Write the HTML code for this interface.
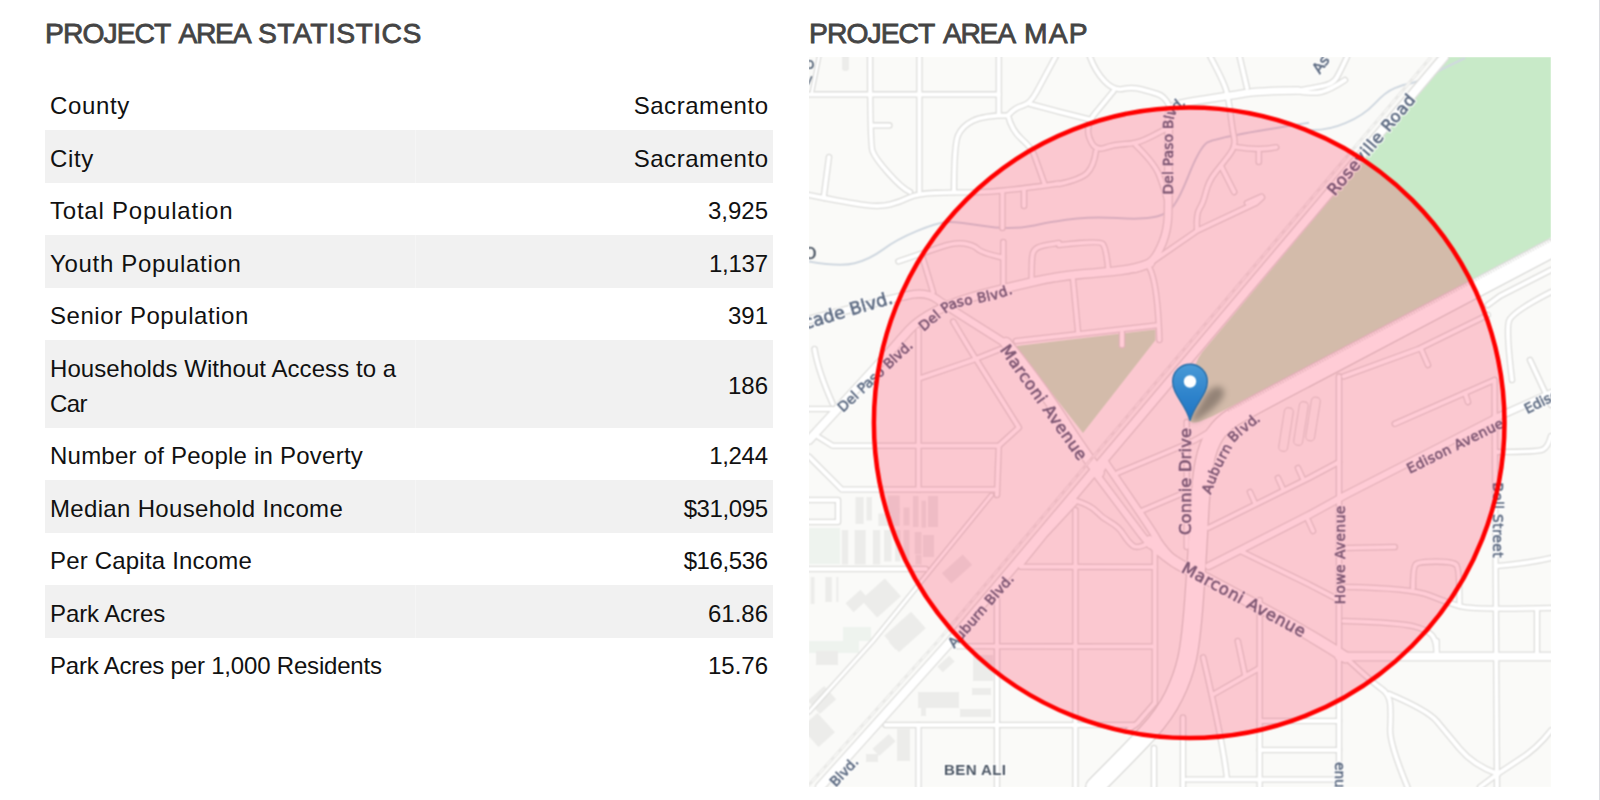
<!DOCTYPE html>
<html lang="en">
<head>
<meta charset="utf-8">
<title>Project Area</title>
<style>
html,body{margin:0;padding:0;background:#fff;}
body{width:1600px;height:800px;overflow:hidden;position:relative;font-family:"Liberation Sans",sans-serif;color:#111;}
h2{position:absolute;margin:0;top:17px;left:0;font-size:28.3px;line-height:32px;font-weight:normal;color:#444;-webkit-text-stroke:0.8px #444;white-space:nowrap;}
h2 span{position:absolute;top:0;}
table{position:absolute;left:45px;top:77.5px;width:728px;border-collapse:collapse;font-size:24px;line-height:35px;}
td{padding:10.75px 5px 6.75px 5px;vertical-align:middle;}
td:first-child{width:361px;}
tr:nth-child(even) td:first-child{box-shadow:inset -1px 0 0 #f5f5f5;}
td.v{text-align:right;}
tr:nth-child(even) td{background:#f1f1f1;}
#edge{position:absolute;left:1599px;top:0;width:1px;height:800px;background:#dcdce0;}
#map{position:absolute;left:809px;top:57px;width:742px;height:730px;background:#fafaf8;overflow:hidden;}
#map svg{display:block;}
#mapblur{position:absolute;left:0;top:0;width:742px;height:730px;}
</style>
</head>
<body>
<h2 id="h-stats"><span style="left:45px;letter-spacing:-0.95px">PROJECT</span> <span style="left:178.5px;letter-spacing:-1.35px">AREA</span> <span style="left:258px;letter-spacing:0.45px">STATISTICS</span></h2>
<h2 id="h-map"><span style="left:809px;letter-spacing:-0.95px">PROJECT</span> <span style="left:943px;letter-spacing:-1.35px">AREA</span> <span style="left:1024px;letter-spacing:1.2px">MAP</span></h2>
<table>
<tr><td><span style="letter-spacing:0.64px">County</span></td><td class="v"><span style="letter-spacing:0.55px;margin-right:-0.55px">Sacramento</span></td></tr>
<tr><td><span style="letter-spacing:0.67px">City</span></td><td class="v"><span style="letter-spacing:0.55px;margin-right:-0.55px">Sacramento</span></td></tr>
<tr><td><span style="letter-spacing:0.78px">Total Population</span></td><td class="v"><span style="letter-spacing:0px;margin-right:0px">3,925</span></td></tr>
<tr><td><span style="letter-spacing:0.68px">Youth Population</span></td><td class="v"><span style="letter-spacing:-0.25px;margin-right:0.25px">1,137</span></td></tr>
<tr><td><span style="letter-spacing:0.55px">Senior Population</span></td><td class="v"><span style="letter-spacing:0px;margin-right:0px">391</span></td></tr>
<tr><td><span style="letter-spacing:0.07px">Households Without Access to a</span><br><span style="letter-spacing:-0.6px">Car</span></td><td class="v"><span style="letter-spacing:0px;margin-right:0px">186</span></td></tr>
<tr><td><span style="letter-spacing:0.23px">Number of People in Poverty</span></td><td class="v"><span style="letter-spacing:-0.3px;margin-right:0.3px">1,244</span></td></tr>
<tr><td><span style="letter-spacing:0.33px">Median Household Income</span></td><td class="v"><span style="letter-spacing:-0.4px;margin-right:0.4px">$31,095</span></td></tr>
<tr><td><span style="letter-spacing:0.19px">Per Capita Income</span></td><td class="v"><span style="letter-spacing:-0.4px;margin-right:0.4px">$16,536</span></td></tr>
<tr><td><span style="letter-spacing:-0.1px">Park Acres</span></td><td class="v"><span style="letter-spacing:0px;margin-right:0px">61.86</span></td></tr>
<tr><td><span style="letter-spacing:-0.19px">Park Acres per 1,000 Residents</span></td><td class="v"><span style="letter-spacing:0px;margin-right:0px">15.76</span></td></tr>
</table>
<div id="map"><div id="mapblur">
<svg width="742" height="730" viewBox="809 57 742 730">
<!--MAPSTART-->
<filter id="soft" x="0" y="0" width="100%" height="100%" filterUnits="objectBoundingBox" color-interpolation-filters="sRGB"><feConvolveMatrix order="3" kernelMatrix="1 2 1 2 4 2 1 2 1" divisor="16" edgeMode="duplicate" preserveAlpha="false"/></filter>
<g filter="url(#soft)">
<rect x="809" y="57" width="742" height="730" fill="#fafaf8"/>
<rect x="809" y="528" width="31" height="36" fill="#eef3ee"/>
<rect x="843" y="627" width="28" height="14" fill="#eef3ee"/>
<rect x="809" y="641" width="50" height="12" fill="#eef3ee"/>
<path d="M1449.5 57 L1551 57 L1551 237.6 L1340 349 L1225 409.7 Q1212 417 1200 421.5 Q1189 424.5 1188.5 418 Q1188 372 1202 352.5 Z" fill="#c8eac8"/>
<path d="M1015 346.2 L1155.5 329.5 L1155.5 340 L1083 433 Z" fill="#c8eac8"/>
<rect x="855.5" y="497.0" width="8.2" height="27.0" fill="#ececea"/>
<rect x="866.5" y="497.0" width="5.5" height="23.5" fill="#ececea"/>
<rect x="878.3" y="513.5" width="11.5" height="12.5" fill="#ececea"/>
<rect x="887.7" y="495.5" width="12.0" height="18.0" fill="#ececea"/>
<rect x="891.0" y="508.0" width="8.7" height="18.0" fill="#ececea"/>
<rect x="903.5" y="507.5" width="6.0" height="18.0" fill="#ececea"/>
<rect x="913.0" y="496.0" width="5.5" height="31.0" fill="#ececea"/>
<rect x="921.5" y="500.7" width="4.5" height="27.0" fill="#ececea"/>
<rect x="928.0" y="496.0" width="10.0" height="31.0" fill="#ececea"/>
<rect x="841.8" y="530.0" width="6.4" height="34.5" fill="#ececea"/>
<rect x="854.6" y="530.0" width="11.0" height="34.5" fill="#ececea"/>
<rect x="872.9" y="530.0" width="7.3" height="34.5" fill="#ececea"/>
<rect x="884.0" y="530.0" width="7.5" height="31.5" fill="#ececea"/>
<rect x="895.0" y="530.0" width="5.5" height="31.5" fill="#ececea"/>
<rect x="903.5" y="530.0" width="6.0" height="30.0" fill="#ececea"/>
<rect x="914.7" y="532.0" width="6.8" height="22.0" fill="#ececea"/>
<rect x="923.0" y="535.0" width="11.0" height="22.0" fill="#ececea"/>
<rect x="915.5" y="554.7" width="6.0" height="9.8" fill="#ececea"/>
<rect x="810.8" y="577.0" width="3.7" height="27.0" fill="#ececea"/>
<rect x="825.4" y="577.0" width="6.4" height="25.0" fill="#ececea"/>
<rect x="836.4" y="577.0" width="2.0" height="25.0" fill="#ececea"/>
<rect x="816.0" y="651.0" width="22.0" height="14.0" fill="#ececea"/>
<rect x="973.0" y="655.0" width="20.0" height="26.0" fill="#ececea"/>
<rect x="918.0" y="692.0" width="41.0" height="16.0" fill="#ececea"/>
<rect x="972.0" y="688.0" width="19.0" height="7.0" fill="#ececea"/>
<rect x="960.0" y="709.0" width="31.0" height="8.0" fill="#ececea"/>
<rect x="897.0" y="729.0" width="13.0" height="32.0" fill="#ececea"/>
<rect x="866.0" y="754.0" width="12.0" height="8.0" fill="#ececea"/>
<rect x="921.0" y="708.0" width="5.0" height="8.0" fill="#ececea"/>
<rect x="943.0" y="562.0" width="28.0" height="14.0" fill="#ececea" transform="rotate(-42 957.0 569.0)"/>
<rect x="847.0" y="595.0" width="20.0" height="12.0" fill="#ececea" transform="rotate(-42 857.0 601.0)"/>
<rect x="865.0" y="586.0" width="32.0" height="24.0" fill="#ececea" transform="rotate(-42 881.0 598.0)"/>
<rect x="887.0" y="621.0" width="36.0" height="22.0" fill="#ececea" transform="rotate(-42 905.0 632.0)"/>
<rect x="890.0" y="635.0" width="18.0" height="10.0" fill="#ececea" transform="rotate(-42 899.0 640.0)"/>
<rect x="938.0" y="660.0" width="16.0" height="8.0" fill="#ececea" transform="rotate(-42 946.0 664.0)"/>
<rect x="811.0" y="691.0" width="22.0" height="18.0" fill="#ececea" transform="rotate(-42 822.0 700.0)"/>
<rect x="807.0" y="717.0" width="22.0" height="26.0" fill="#ececea" transform="rotate(-42 818.0 730.0)"/>
<rect x="873.0" y="740.0" width="22.0" height="10.0" fill="#ececea" transform="rotate(-42 884.0 745.0)"/>
<rect x="842" y="54" width="7" height="17" rx="3" fill="#ececea"/>
<path d="M809.0 261.4 Q840.0 266.9 854.6 263.2 Q869.2 259.6 882.9 249.6 Q896.6 239.5 916.7 231.2 Q936.7 223.0 945.9 222.1 Q955.0 221.2 982.4 225.8 Q1009.7 230.4 1034.3 225.4 Q1059.0 220.3 1077.2 218.5 Q1095.5 216.7 1117.4 218.1 Q1139.3 219.4 1151.2 217.6 Q1163.0 215.8 1170.3 209.4 Q1177.6 203.0 1188.5 175.6 Q1199.5 148.2 1206.8 142.8 Q1214.0 137.3 1309.0 122.7" fill="none" stroke="#d0d8e0" stroke-width="2"/>
<path d="M1309.0 130.0 Q1327.0 131.0 1345.3 123.2 Q1363.7 115.4 1374.7 103.6 Q1385.6 91.7 1394.8 88.1 Q1404.0 84.4 1410.3 83.5 Q1416.7 82.5 1428.3 76.2 Q1440.0 70.0 1465.0 58.0" fill="none" stroke="#d0d8e0" stroke-width="2"/>
<g fill="none" stroke-linecap="round" stroke-linejoin="round">
<path d="M1551.0 248.6 Q1340.0 360.0 1292.5 385.0 Q1245.0 410.0 1233.5 417.0 Q1222.0 424.0 1215.0 434.5 Q1208.0 445.0 1204.5 462.5 Q1201.0 480.0 1199.0 520.0 Q1197.0 560.0 1194.0 600.5 Q1191.0 641.0 1187.0 659.0 Q1183.0 677.0 1174.0 695.5 Q1165.0 714.0 1148.5 732.0 Q1132.0 750.0 1095.0 787.0" stroke="#d6d6d4" stroke-width="20"/>
<path d="M809.0 94.4 L998.8 94.4" stroke="#dededc" stroke-width="6.6"/>
<path d="M870.1 57.0 Q870.1 144.0 872.5 151.0 Q875.0 158.0 888.5 173.2 Q902.0 188.4 910.0 192.0" stroke="#dededc" stroke-width="6.6"/>
<path d="M919.4 57.0 L919.4 192.0" stroke="#dededc" stroke-width="6.6"/>
<path d="M998.8 57.0 L998.8 114.0" stroke="#dededc" stroke-width="6.6"/>
<path d="M872.0 125.4 L889.3 125.4" stroke="#dededc" stroke-width="6.6"/>
<path d="M819.0 57.0 L812.0 92.0" stroke="#dededc" stroke-width="5.1"/>
<path d="M829.0 157.0 L823.6 198.0" stroke="#dededc" stroke-width="6.6"/>
<path d="M809.0 195.0 Q850.0 203.0 865.0 205.0 Q880.0 207.0 890.0 204.5 Q900.0 202.0 908.5 197.8 Q917.0 193.5 935.5 192.9 Q954.0 192.3 977.0 192.2 Q1000.0 192.0 1059.0 183.5" stroke="#dededc" stroke-width="6.6"/>
<path d="M954.0 192.0 Q954.0 145.0 958.0 135.5 Q962.0 126.0 973.0 120.7 Q984.0 115.4 1008.0 115.4" stroke="#dededc" stroke-width="6.6"/>
<path d="M1008.0 115.4 Q1015.0 107.5 1022.5 105.8 Q1030.0 104.0 1036.5 92.0 Q1043.0 80.0 1055.4 57.0" stroke="#dededc" stroke-width="6.6"/>
<path d="M1030.0 104.0 L1059.0 111.7 L1090.0 119.5" stroke="#dededc" stroke-width="6.6"/>
<path d="M1008.0 115.4 Q1011.6 130.0 1021.6 139.1 Q1031.6 148.2 1033.8 154.1 Q1036.0 160.0 1044.4 183.5" stroke="#dededc" stroke-width="6.6"/>
<path d="M1002.4 192.0 L1002.4 228.0" stroke="#dededc" stroke-width="6.6"/>
<path d="M1024.0 191.0 L1024.0 206.0" stroke="#dededc" stroke-width="6.6"/>
<path d="M1298.0 90.5 Q1259.7 90.8 1243.3 93.5 Q1226.9 96.2 1205.0 99.4 Q1183.0 102.6 1176.5 104.8 Q1170.0 107.0 1169.2 116.0 Q1168.5 125.0 1168.5 164.0 Q1168.5 203.0 1168.0 216.5 Q1167.5 230.0 1162.8 242.0 Q1158.0 254.0 1153.0 259.5 Q1148.0 265.0 1135.6 268.7" stroke="#dededc" stroke-width="9.1"/>
<path d="M1210.5 57.0 Q1223.2 80.7 1226.0 89.8 Q1228.7 99.0 1230.6 114.5 Q1232.4 130.0 1234.2 138.0 Q1236.0 146.0 1229.6 154.4 Q1223.2 162.8 1215.9 171.9 Q1208.6 181.0 1205.9 192.0 Q1203.2 203.0 1199.6 208.5 Q1196.0 214.0 1197.0 230.0" stroke="#dededc" stroke-width="6.6"/>
<path d="M1236.0 147.0 Q1259.7 151.0 1276.2 147.3" stroke="#dededc" stroke-width="6.6"/>
<path d="M1258.8 152.0 L1258.8 162.0" stroke="#dededc" stroke-width="6.6"/>
<path d="M1221.0 166.0 L1234.2 192.0" stroke="#dededc" stroke-width="6.6"/>
<path d="M1247.0 203.0 L1261.6 196.6" stroke="#dededc" stroke-width="6.6"/>
<path d="M1239.7 57.0 L1247.0 88.0" stroke="#dededc" stroke-width="6.6"/>
<path d="M1296.0 91.0 Q1312.0 88.0 1322.5 86.0 Q1333.0 84.0 1336.5 78.0 Q1340.0 72.0 1347.0 57.0" stroke="#dededc" stroke-width="6.6"/>
<path d="M1296.0 91.0 Q1312.0 94.0 1321.0 92.0 Q1330.0 90.0 1345.0 80.0" stroke="#dededc" stroke-width="6.6"/>
<path d="M1090.0 57.0 Q1095.5 71.6 1104.6 81.2 Q1113.7 90.8 1122.8 88.9 Q1132.0 87.0 1141.1 89.3 Q1150.2 91.7 1157.5 94.0 Q1164.8 96.2 1169.4 106.0" stroke="#dededc" stroke-width="6.6"/>
<path d="M1113.7 90.8 Q1101.0 106.3 1095.5 112.9 Q1090.0 119.5 1088.5 126.8 Q1087.0 134.0 1091.5 142.5 Q1096.0 151.0 1104.8 147.8 Q1113.7 144.6 1124.7 144.1 Q1135.6 143.7 1144.8 139.6 Q1153.9 135.5 1167.0 128.2" stroke="#dededc" stroke-width="6.6"/>
<path d="M1096.0 151.0 Q1093.7 166.5 1087.3 172.9 Q1080.9 179.3 1059.0 184.0" stroke="#dededc" stroke-width="6.6"/>
<path d="M1135.6 145.0 Q1153.9 162.8 1158.5 173.8 Q1163.0 184.7 1167.0 200.0" stroke="#dededc" stroke-width="6.6"/>
<path d="M898.4 261.4 Q927.6 251.4 941.3 246.8 Q955.0 242.2 964.1 243.6 Q973.2 245.0 977.8 249.1 Q982.4 253.2 1003.0 257.7" stroke="#dededc" stroke-width="6.6"/>
<path d="M1003.3 242.0 L1003.3 286.0" stroke="#dededc" stroke-width="6.6"/>
<path d="M922.1 256.0 L933.1 292.4" stroke="#dededc" stroke-width="6.6"/>
<path d="M1059.0 243.1 Q1042.6 245.0 1037.8 247.5 Q1033.0 250.0 1032.3 256.0 Q1031.6 262.0 1031.6 279.0" stroke="#dededc" stroke-width="6.6"/>
<path d="M953.2 321.6 L969.6 349.0 L1018.9 427.5 L998.8 445.7 L997.0 495.0" stroke="#dededc" stroke-width="6.6"/>
<path d="M809.0 319.8 Q900.0 296.0 913.8 294.2 Q927.6 292.4 936.8 299.2 Q945.9 306.0 1009.7 346.0" stroke="#dededc" stroke-width="9.1"/>
<path d="M1006.0 343.0 Q1040.0 385.0 1061.5 418.5 Q1083.0 452.0 1098.8 472.5" stroke="#dededc" stroke-width="12.6"/>
<path d="M809.0 440.0 Q885.6 357.0 892.8 348.5 Q900.0 340.0 909.2 329.9 Q918.5 319.8 936.8 310.6 Q955.0 301.5 982.4 294.2 Q1009.7 287.0 1034.3 281.5 Q1059.0 276.0 1081.8 274.1 Q1104.6 272.3 1120.1 270.5 Q1135.6 268.7 1150.2 263.2" stroke="#dededc" stroke-width="10.1"/>
<path d="M1150.2 263.2 L1197.7 230.4 L1256.0 203.0 L1262.0 197.5" stroke="#dededc" stroke-width="6.6"/>
<path d="M1059.0 245.0 Q1099.0 240.4 1102.5 243.7 Q1106.0 247.0 1108.3 270.0" stroke="#dededc" stroke-width="6.6"/>
<path d="M1072.7 276.0 L1078.2 333.5" stroke="#dededc" stroke-width="6.6"/>
<path d="M1016.0 341.0 L1059.0 336.2 L1157.5 325.3" stroke="#dededc" stroke-width="6.6"/>
<path d="M1148.4 266.0 Q1157.5 279.6 1159.4 339.9" stroke="#dededc" stroke-width="6.6"/>
<path d="M1122.0 332.6 L1122.0 345.3" stroke="#dededc" stroke-width="6.6"/>
<path d="M918.5 330.0 L918.5 489.5" stroke="#dededc" stroke-width="6.6"/>
<path d="M918.5 725.0 L918.5 787.0" stroke="#dededc" stroke-width="6.6"/>
<path d="M818.0 436.6 L832.7 445.7 L998.8 445.7" stroke="#dededc" stroke-width="6.6"/>
<path d="M809.0 456.7 L841.8 489.5 L995.0 489.5" stroke="#dededc" stroke-width="6.6"/>
<path d="M920.3 378.2 L973.2 360.0 L1000.6 349.0" stroke="#dededc" stroke-width="6.6"/>
<path d="M814.5 349.0 Q818.0 371.0 832.7 403.7" stroke="#dededc" stroke-width="6.6"/>
<path d="M809.0 409.0 L832.7 409.0" stroke="#dededc" stroke-width="6.6"/>
<path d="M1339.0 376.4 L1339.0 787.0" stroke="#dededc" stroke-width="6.6"/>
<path d="M1494.5 380.0 L1497.0 787.0" stroke="#dededc" stroke-width="6.6"/>
<path d="M1343.7 376.4 L1418.5 349.0 L1487.8 315.0" stroke="#dededc" stroke-width="6.6"/>
<path d="M1394.8 423.8 L1494.5 380.0" stroke="#dededc" stroke-width="6.6"/>
<path d="M1465.0 393.0 L1468.0 402.0" stroke="#dededc" stroke-width="6.6"/>
<path d="M1421.0 349.0 L1428.0 365.0" stroke="#dededc" stroke-width="6.6"/>
<path d="M1208.6 566.2 L1309.0 515.0 L1345.5 495.0 L1498.8 416.5 L1551.7 392.8" stroke="#dededc" stroke-width="8.6"/>
<path d="M1208.6 527.8 L1309.0 478.0 L1339.0 462.0" stroke="#dededc" stroke-width="6.6"/>
<path d="M1241.5 551.6 L1309.0 584.4 L1339.0 600.0" stroke="#dededc" stroke-width="6.6"/>
<path d="M1255.0 503.0 L1250.0 492.0" stroke="#dededc" stroke-width="6.6"/>
<path d="M1283.0 489.0 L1278.0 478.0" stroke="#dededc" stroke-width="6.6"/>
<path d="M1303.0 479.0 L1298.0 468.0" stroke="#dededc" stroke-width="6.6"/>
<path d="M1308.0 520.0 L1313.0 531.0" stroke="#dededc" stroke-width="6.6"/>
<path d="M1551.0 270.0 L1500.0 296.0 L1487.8 305.0" stroke="#dededc" stroke-width="6.6"/>
<path d="M1551.0 292.0 Q1512.0 312.0 1509.0 321.0 Q1506.0 330.0 1512.0 380.0" stroke="#dededc" stroke-width="6.6"/>
<path d="M1497.0 452.0 Q1538.0 452.0 1543.0 449.5 Q1548.0 447.0 1551.0 436.0" stroke="#dededc" stroke-width="6.6"/>
<path d="M1530.0 360.0 L1551.0 405.0" stroke="#dededc" stroke-width="6.6"/>
<path d="M809.0 569.0 L925.8 569.0" stroke="#dededc" stroke-width="6.6"/>
<path d="M991.5 495.0 L872.9 641.0 L809.0 712.0" stroke="#dededc" stroke-width="5.6"/>
<path d="M1020.7 566.8 L1154.8 567.0" stroke="#dededc" stroke-width="6.6"/>
<path d="M997.0 597.0 L997.0 787.0" stroke="#dededc" stroke-width="6.6"/>
<path d="M957.5 646.3 L1154.0 646.5" stroke="#dededc" stroke-width="6.6"/>
<path d="M1075.4 510.0 L1075.4 787.0" stroke="#dededc" stroke-width="6.6"/>
<path d="M1154.8 548.0 L1154.8 703.0 L1137.5 723.0 L1128.0 730.0" stroke="#dededc" stroke-width="6.6"/>
<path d="M809.0 500.0 L838.0 500.0 L838.0 522.0 L809.0 522.0" stroke="#dededc" stroke-width="6.6"/>
<path d="M1186.7 422.0 L1186.7 547.0" stroke="#dededc" stroke-width="6.6"/>
<path d="M1117.8 472.9 Q1180.0 447.0 1190.0 442.5 Q1200.0 438.0 1215.0 428.0" stroke="#dededc" stroke-width="6.6"/>
<path d="M1141.3 511.0 L1180.0 494.5" stroke="#dededc" stroke-width="6.6"/>
<path d="M1075.6 502.0 L1045.0 535.0 L1020.7 565.0" stroke="#dededc" stroke-width="6.6"/>
<path d="M1098.8 472.5 L1105.7 463.0" stroke="#dededc" stroke-width="8.6"/>
<path d="M1105.7 463.0 Q1152.5 530.6 1156.2 537.8 Q1160.0 545.0 1170.0 556.0" stroke="#dededc" stroke-width="8.6"/>
<path d="M1096.3 474.4 L1141.3 534.4 L1150.0 545.0" stroke="#dededc" stroke-width="8.6"/>
<path d="M1075.6 500.6 Q1090.0 505.0 1096.0 511.2 Q1101.9 517.5 1110.3 522.2 Q1118.8 526.9 1123.4 534.4 Q1128.1 541.9 1132.8 545.6 Q1137.5 549.4 1150.6 541.9" stroke="#dededc" stroke-width="6.6"/>
<path d="M1150.0 541.0 Q1167.5 558.8 1183.8 566.9 Q1200.0 575.0 1254.5 604.4 Q1309.0 633.7 1345.5 657.4" stroke="#dededc" stroke-width="12.6"/>
<path d="M1339.0 656.5 L1551.0 656.5" stroke="#dededc" stroke-width="10.1"/>
<path d="M1345.5 587.0 Q1411.2 588.0 1429.5 595.4 Q1447.7 602.7 1460.5 606.4 Q1473.2 610.0 1551.0 608.0" stroke="#dededc" stroke-width="6.6"/>
<path d="M1413.0 588.0 Q1413.0 567.0 1416.0 564.3 Q1419.0 561.6 1436.0 561.6 Q1453.0 561.6 1456.2 564.8 Q1459.5 568.0 1459.5 606.0" stroke="#dededc" stroke-width="6.6"/>
<path d="M1345.5 548.0 L1394.8 547.0" stroke="#dededc" stroke-width="6.6"/>
<path d="M1343.7 621.0 Q1400.0 622.7 1413.8 626.4 Q1427.6 630.0 1432.2 635.5 Q1436.7 641.0 1436.7 656.0" stroke="#dededc" stroke-width="6.6"/>
<path d="M1497.0 566.0 Q1530.0 563.0 1551.0 558.0" stroke="#dededc" stroke-width="6.6"/>
<path d="M1537.0 610.0 L1537.0 656.0" stroke="#dededc" stroke-width="6.6"/>
<path d="M885.6 725.0 L1135.0 725.0" stroke="#dededc" stroke-width="6.6"/>
<path d="M1259.7 600.0 L1259.7 787.0" stroke="#dededc" stroke-width="6.6"/>
<path d="M1203.2 657.4 Q1223.2 743.2 1226.9 778.0" stroke="#dededc" stroke-width="6.6"/>
<path d="M1214.0 694.0 L1258.8 668.4" stroke="#dededc" stroke-width="6.6"/>
<path d="M1237.8 641.0 L1245.0 675.0" stroke="#dededc" stroke-width="6.6"/>
<path d="M1183.0 717.6 L1183.0 787.0" stroke="#dededc" stroke-width="6.6"/>
<path d="M1186.7 779.5 L1339.0 779.5" stroke="#dededc" stroke-width="6.6"/>
<path d="M1259.7 721.0 L1339.0 721.0" stroke="#dededc" stroke-width="6.6"/>
<path d="M1259.7 750.0 L1339.0 750.0" stroke="#dededc" stroke-width="6.6"/>
<path d="M1154.0 748.0 L1154.0 787.0" stroke="#dededc" stroke-width="6.6"/>
<path d="M1345.5 657.4 Q1372.9 683.0 1381.1 688.5 Q1389.3 694.0 1390.2 704.0 Q1391.0 714.0 1390.2 728.6 Q1389.3 743.2 1407.5 787.0" stroke="#dededc" stroke-width="6.6"/>
<path d="M1389.3 694.0 Q1427.6 710.3 1436.8 721.2 Q1445.9 732.2 1459.6 748.6 Q1473.2 765.0 1498.0 774.2" stroke="#dededc" stroke-width="6.6"/>
<path d="M1551.0 730.4 Q1537.0 748.7 1517.9 760.5 Q1498.8 772.4 1480.0 787.0" stroke="#dededc" stroke-width="6.6"/>
<path d="M1436.7 641.0 L1436.7 656.0" stroke="#dededc" stroke-width="6.6"/>
<path d="M1444.0 57.0 L1095.0 470.0 L951.0 641.0 L820.0 787.0" stroke="#dededc" stroke-width="10.6"/>
<path d="M1551.0 248.6 Q1340.0 360.0 1292.5 385.0 Q1245.0 410.0 1233.5 417.0 Q1222.0 424.0 1215.0 434.5 Q1208.0 445.0 1204.5 462.5 Q1201.0 480.0 1199.0 520.0 Q1197.0 560.0 1194.0 600.5 Q1191.0 641.0 1187.0 659.0 Q1183.0 677.0 1174.0 695.5 Q1165.0 714.0 1148.5 732.0 Q1132.0 750.0 1095.0 787.0" stroke="#ffffff" stroke-width="17.6"/>
<path d="M809.0 94.4 L998.8 94.4" stroke="#ffffff" stroke-width="4.0"/>
<path d="M870.1 57.0 Q870.1 144.0 872.5 151.0 Q875.0 158.0 888.5 173.2 Q902.0 188.4 910.0 192.0" stroke="#ffffff" stroke-width="4.0"/>
<path d="M919.4 57.0 L919.4 192.0" stroke="#ffffff" stroke-width="4.0"/>
<path d="M998.8 57.0 L998.8 114.0" stroke="#ffffff" stroke-width="4.0"/>
<path d="M872.0 125.4 L889.3 125.4" stroke="#ffffff" stroke-width="4.0"/>
<path d="M819.0 57.0 L812.0 92.0" stroke="#ffffff" stroke-width="2.5"/>
<path d="M829.0 157.0 L823.6 198.0" stroke="#ffffff" stroke-width="4.0"/>
<path d="M809.0 195.0 Q850.0 203.0 865.0 205.0 Q880.0 207.0 890.0 204.5 Q900.0 202.0 908.5 197.8 Q917.0 193.5 935.5 192.9 Q954.0 192.3 977.0 192.2 Q1000.0 192.0 1059.0 183.5" stroke="#ffffff" stroke-width="4.0"/>
<path d="M954.0 192.0 Q954.0 145.0 958.0 135.5 Q962.0 126.0 973.0 120.7 Q984.0 115.4 1008.0 115.4" stroke="#ffffff" stroke-width="4.0"/>
<path d="M1008.0 115.4 Q1015.0 107.5 1022.5 105.8 Q1030.0 104.0 1036.5 92.0 Q1043.0 80.0 1055.4 57.0" stroke="#ffffff" stroke-width="4.0"/>
<path d="M1030.0 104.0 L1059.0 111.7 L1090.0 119.5" stroke="#ffffff" stroke-width="4.0"/>
<path d="M1008.0 115.4 Q1011.6 130.0 1021.6 139.1 Q1031.6 148.2 1033.8 154.1 Q1036.0 160.0 1044.4 183.5" stroke="#ffffff" stroke-width="4.0"/>
<path d="M1002.4 192.0 L1002.4 228.0" stroke="#ffffff" stroke-width="4.0"/>
<path d="M1024.0 191.0 L1024.0 206.0" stroke="#ffffff" stroke-width="4.0"/>
<path d="M1298.0 90.5 Q1259.7 90.8 1243.3 93.5 Q1226.9 96.2 1205.0 99.4 Q1183.0 102.6 1176.5 104.8 Q1170.0 107.0 1169.2 116.0 Q1168.5 125.0 1168.5 164.0 Q1168.5 203.0 1168.0 216.5 Q1167.5 230.0 1162.8 242.0 Q1158.0 254.0 1153.0 259.5 Q1148.0 265.0 1135.6 268.7" stroke="#ffffff" stroke-width="6.5"/>
<path d="M1210.5 57.0 Q1223.2 80.7 1226.0 89.8 Q1228.7 99.0 1230.6 114.5 Q1232.4 130.0 1234.2 138.0 Q1236.0 146.0 1229.6 154.4 Q1223.2 162.8 1215.9 171.9 Q1208.6 181.0 1205.9 192.0 Q1203.2 203.0 1199.6 208.5 Q1196.0 214.0 1197.0 230.0" stroke="#ffffff" stroke-width="4.0"/>
<path d="M1236.0 147.0 Q1259.7 151.0 1276.2 147.3" stroke="#ffffff" stroke-width="4.0"/>
<path d="M1258.8 152.0 L1258.8 162.0" stroke="#ffffff" stroke-width="4.0"/>
<path d="M1221.0 166.0 L1234.2 192.0" stroke="#ffffff" stroke-width="4.0"/>
<path d="M1247.0 203.0 L1261.6 196.6" stroke="#ffffff" stroke-width="4.0"/>
<path d="M1239.7 57.0 L1247.0 88.0" stroke="#ffffff" stroke-width="4.0"/>
<path d="M1296.0 91.0 Q1312.0 88.0 1322.5 86.0 Q1333.0 84.0 1336.5 78.0 Q1340.0 72.0 1347.0 57.0" stroke="#ffffff" stroke-width="4.0"/>
<path d="M1296.0 91.0 Q1312.0 94.0 1321.0 92.0 Q1330.0 90.0 1345.0 80.0" stroke="#ffffff" stroke-width="4.0"/>
<path d="M1090.0 57.0 Q1095.5 71.6 1104.6 81.2 Q1113.7 90.8 1122.8 88.9 Q1132.0 87.0 1141.1 89.3 Q1150.2 91.7 1157.5 94.0 Q1164.8 96.2 1169.4 106.0" stroke="#ffffff" stroke-width="4.0"/>
<path d="M1113.7 90.8 Q1101.0 106.3 1095.5 112.9 Q1090.0 119.5 1088.5 126.8 Q1087.0 134.0 1091.5 142.5 Q1096.0 151.0 1104.8 147.8 Q1113.7 144.6 1124.7 144.1 Q1135.6 143.7 1144.8 139.6 Q1153.9 135.5 1167.0 128.2" stroke="#ffffff" stroke-width="4.0"/>
<path d="M1096.0 151.0 Q1093.7 166.5 1087.3 172.9 Q1080.9 179.3 1059.0 184.0" stroke="#ffffff" stroke-width="4.0"/>
<path d="M1135.6 145.0 Q1153.9 162.8 1158.5 173.8 Q1163.0 184.7 1167.0 200.0" stroke="#ffffff" stroke-width="4.0"/>
<path d="M898.4 261.4 Q927.6 251.4 941.3 246.8 Q955.0 242.2 964.1 243.6 Q973.2 245.0 977.8 249.1 Q982.4 253.2 1003.0 257.7" stroke="#ffffff" stroke-width="4.0"/>
<path d="M1003.3 242.0 L1003.3 286.0" stroke="#ffffff" stroke-width="4.0"/>
<path d="M922.1 256.0 L933.1 292.4" stroke="#ffffff" stroke-width="4.0"/>
<path d="M1059.0 243.1 Q1042.6 245.0 1037.8 247.5 Q1033.0 250.0 1032.3 256.0 Q1031.6 262.0 1031.6 279.0" stroke="#ffffff" stroke-width="4.0"/>
<path d="M953.2 321.6 L969.6 349.0 L1018.9 427.5 L998.8 445.7 L997.0 495.0" stroke="#ffffff" stroke-width="4.0"/>
<path d="M809.0 319.8 Q900.0 296.0 913.8 294.2 Q927.6 292.4 936.8 299.2 Q945.9 306.0 1009.7 346.0" stroke="#ffffff" stroke-width="6.5"/>
<path d="M1006.0 343.0 Q1040.0 385.0 1061.5 418.5 Q1083.0 452.0 1098.8 472.5" stroke="#ffffff" stroke-width="10.0"/>
<path d="M809.0 440.0 Q885.6 357.0 892.8 348.5 Q900.0 340.0 909.2 329.9 Q918.5 319.8 936.8 310.6 Q955.0 301.5 982.4 294.2 Q1009.7 287.0 1034.3 281.5 Q1059.0 276.0 1081.8 274.1 Q1104.6 272.3 1120.1 270.5 Q1135.6 268.7 1150.2 263.2" stroke="#ffffff" stroke-width="7.5"/>
<path d="M1150.2 263.2 L1197.7 230.4 L1256.0 203.0 L1262.0 197.5" stroke="#ffffff" stroke-width="4.0"/>
<path d="M1059.0 245.0 Q1099.0 240.4 1102.5 243.7 Q1106.0 247.0 1108.3 270.0" stroke="#ffffff" stroke-width="4.0"/>
<path d="M1072.7 276.0 L1078.2 333.5" stroke="#ffffff" stroke-width="4.0"/>
<path d="M1016.0 341.0 L1059.0 336.2 L1157.5 325.3" stroke="#ffffff" stroke-width="4.0"/>
<path d="M1148.4 266.0 Q1157.5 279.6 1159.4 339.9" stroke="#ffffff" stroke-width="4.0"/>
<path d="M1122.0 332.6 L1122.0 345.3" stroke="#ffffff" stroke-width="4.0"/>
<path d="M918.5 330.0 L918.5 489.5" stroke="#ffffff" stroke-width="4.0"/>
<path d="M918.5 725.0 L918.5 787.0" stroke="#ffffff" stroke-width="4.0"/>
<path d="M818.0 436.6 L832.7 445.7 L998.8 445.7" stroke="#ffffff" stroke-width="4.0"/>
<path d="M809.0 456.7 L841.8 489.5 L995.0 489.5" stroke="#ffffff" stroke-width="4.0"/>
<path d="M920.3 378.2 L973.2 360.0 L1000.6 349.0" stroke="#ffffff" stroke-width="4.0"/>
<path d="M814.5 349.0 Q818.0 371.0 832.7 403.7" stroke="#ffffff" stroke-width="4.0"/>
<path d="M809.0 409.0 L832.7 409.0" stroke="#ffffff" stroke-width="4.0"/>
<path d="M1339.0 376.4 L1339.0 787.0" stroke="#ffffff" stroke-width="4.0"/>
<path d="M1494.5 380.0 L1497.0 787.0" stroke="#ffffff" stroke-width="4.0"/>
<path d="M1343.7 376.4 L1418.5 349.0 L1487.8 315.0" stroke="#ffffff" stroke-width="4.0"/>
<path d="M1394.8 423.8 L1494.5 380.0" stroke="#ffffff" stroke-width="4.0"/>
<path d="M1465.0 393.0 L1468.0 402.0" stroke="#ffffff" stroke-width="4.0"/>
<path d="M1421.0 349.0 L1428.0 365.0" stroke="#ffffff" stroke-width="4.0"/>
<path d="M1208.6 566.2 L1309.0 515.0 L1345.5 495.0 L1498.8 416.5 L1551.7 392.8" stroke="#ffffff" stroke-width="6.0"/>
<path d="M1208.6 527.8 L1309.0 478.0 L1339.0 462.0" stroke="#ffffff" stroke-width="4.0"/>
<path d="M1241.5 551.6 L1309.0 584.4 L1339.0 600.0" stroke="#ffffff" stroke-width="4.0"/>
<path d="M1255.0 503.0 L1250.0 492.0" stroke="#ffffff" stroke-width="4.0"/>
<path d="M1283.0 489.0 L1278.0 478.0" stroke="#ffffff" stroke-width="4.0"/>
<path d="M1303.0 479.0 L1298.0 468.0" stroke="#ffffff" stroke-width="4.0"/>
<path d="M1308.0 520.0 L1313.0 531.0" stroke="#ffffff" stroke-width="4.0"/>
<path d="M1551.0 270.0 L1500.0 296.0 L1487.8 305.0" stroke="#ffffff" stroke-width="4.0"/>
<path d="M1551.0 292.0 Q1512.0 312.0 1509.0 321.0 Q1506.0 330.0 1512.0 380.0" stroke="#ffffff" stroke-width="4.0"/>
<path d="M1497.0 452.0 Q1538.0 452.0 1543.0 449.5 Q1548.0 447.0 1551.0 436.0" stroke="#ffffff" stroke-width="4.0"/>
<path d="M1530.0 360.0 L1551.0 405.0" stroke="#ffffff" stroke-width="4.0"/>
<path d="M809.0 569.0 L925.8 569.0" stroke="#ffffff" stroke-width="4.0"/>
<path d="M991.5 495.0 L872.9 641.0 L809.0 712.0" stroke="#ffffff" stroke-width="3.0"/>
<path d="M1020.7 566.8 L1154.8 567.0" stroke="#ffffff" stroke-width="4.0"/>
<path d="M997.0 597.0 L997.0 787.0" stroke="#ffffff" stroke-width="4.0"/>
<path d="M957.5 646.3 L1154.0 646.5" stroke="#ffffff" stroke-width="4.0"/>
<path d="M1075.4 510.0 L1075.4 787.0" stroke="#ffffff" stroke-width="4.0"/>
<path d="M1154.8 548.0 L1154.8 703.0 L1137.5 723.0 L1128.0 730.0" stroke="#ffffff" stroke-width="4.0"/>
<path d="M809.0 500.0 L838.0 500.0 L838.0 522.0 L809.0 522.0" stroke="#ffffff" stroke-width="4.0"/>
<path d="M1186.7 422.0 L1186.7 547.0" stroke="#ffffff" stroke-width="4.0"/>
<path d="M1117.8 472.9 Q1180.0 447.0 1190.0 442.5 Q1200.0 438.0 1215.0 428.0" stroke="#ffffff" stroke-width="4.0"/>
<path d="M1141.3 511.0 L1180.0 494.5" stroke="#ffffff" stroke-width="4.0"/>
<path d="M1075.6 502.0 L1045.0 535.0 L1020.7 565.0" stroke="#ffffff" stroke-width="4.0"/>
<path d="M1098.8 472.5 L1105.7 463.0" stroke="#ffffff" stroke-width="6.0"/>
<path d="M1105.7 463.0 Q1152.5 530.6 1156.2 537.8 Q1160.0 545.0 1170.0 556.0" stroke="#ffffff" stroke-width="6.0"/>
<path d="M1096.3 474.4 L1141.3 534.4 L1150.0 545.0" stroke="#ffffff" stroke-width="6.0"/>
<path d="M1075.6 500.6 Q1090.0 505.0 1096.0 511.2 Q1101.9 517.5 1110.3 522.2 Q1118.8 526.9 1123.4 534.4 Q1128.1 541.9 1132.8 545.6 Q1137.5 549.4 1150.6 541.9" stroke="#ffffff" stroke-width="4.0"/>
<path d="M1150.0 541.0 Q1167.5 558.8 1183.8 566.9 Q1200.0 575.0 1254.5 604.4 Q1309.0 633.7 1345.5 657.4" stroke="#ffffff" stroke-width="10.0"/>
<path d="M1339.0 656.5 L1551.0 656.5" stroke="#ffffff" stroke-width="7.5"/>
<path d="M1345.5 587.0 Q1411.2 588.0 1429.5 595.4 Q1447.7 602.7 1460.5 606.4 Q1473.2 610.0 1551.0 608.0" stroke="#ffffff" stroke-width="4.0"/>
<path d="M1413.0 588.0 Q1413.0 567.0 1416.0 564.3 Q1419.0 561.6 1436.0 561.6 Q1453.0 561.6 1456.2 564.8 Q1459.5 568.0 1459.5 606.0" stroke="#ffffff" stroke-width="4.0"/>
<path d="M1345.5 548.0 L1394.8 547.0" stroke="#ffffff" stroke-width="4.0"/>
<path d="M1343.7 621.0 Q1400.0 622.7 1413.8 626.4 Q1427.6 630.0 1432.2 635.5 Q1436.7 641.0 1436.7 656.0" stroke="#ffffff" stroke-width="4.0"/>
<path d="M1497.0 566.0 Q1530.0 563.0 1551.0 558.0" stroke="#ffffff" stroke-width="4.0"/>
<path d="M1537.0 610.0 L1537.0 656.0" stroke="#ffffff" stroke-width="4.0"/>
<path d="M885.6 725.0 L1135.0 725.0" stroke="#ffffff" stroke-width="4.0"/>
<path d="M1259.7 600.0 L1259.7 787.0" stroke="#ffffff" stroke-width="4.0"/>
<path d="M1203.2 657.4 Q1223.2 743.2 1226.9 778.0" stroke="#ffffff" stroke-width="4.0"/>
<path d="M1214.0 694.0 L1258.8 668.4" stroke="#ffffff" stroke-width="4.0"/>
<path d="M1237.8 641.0 L1245.0 675.0" stroke="#ffffff" stroke-width="4.0"/>
<path d="M1183.0 717.6 L1183.0 787.0" stroke="#ffffff" stroke-width="4.0"/>
<path d="M1186.7 779.5 L1339.0 779.5" stroke="#ffffff" stroke-width="4.0"/>
<path d="M1259.7 721.0 L1339.0 721.0" stroke="#ffffff" stroke-width="4.0"/>
<path d="M1259.7 750.0 L1339.0 750.0" stroke="#ffffff" stroke-width="4.0"/>
<path d="M1154.0 748.0 L1154.0 787.0" stroke="#ffffff" stroke-width="4.0"/>
<path d="M1345.5 657.4 Q1372.9 683.0 1381.1 688.5 Q1389.3 694.0 1390.2 704.0 Q1391.0 714.0 1390.2 728.6 Q1389.3 743.2 1407.5 787.0" stroke="#ffffff" stroke-width="4.0"/>
<path d="M1389.3 694.0 Q1427.6 710.3 1436.8 721.2 Q1445.9 732.2 1459.6 748.6 Q1473.2 765.0 1498.0 774.2" stroke="#ffffff" stroke-width="4.0"/>
<path d="M1551.0 730.4 Q1537.0 748.7 1517.9 760.5 Q1498.8 772.4 1480.0 787.0" stroke="#ffffff" stroke-width="4.0"/>
<path d="M1436.7 641.0 L1436.7 656.0" stroke="#ffffff" stroke-width="4.0"/>
<path d="M1444.0 57.0 L1095.0 470.0 L951.0 641.0 L820.0 787.0" stroke="#ffffff" stroke-width="8.0"/>
</g>
<path d="M1431.0 57.0 L1082.0 470.0 L938.0 641.0 L807.0 787.0" fill="none" stroke="#e9e9e7" stroke-width="3.2"/>
<path d="M1431.0 57.0 L1082.0 470.0 L938.0 641.0 L807.0 787.0" fill="none" stroke="#f7f7f5" stroke-width="1.4" stroke-dasharray="7 4"/>
<rect x="1281.5" y="407.5" width="9" height="44" rx="4" fill="none" stroke="#dededc" stroke-width="1.1" transform="rotate(9 1286.0 429.5)"/>
<rect x="1296.5" y="401.5" width="9" height="44" rx="4" fill="none" stroke="#dededc" stroke-width="1.1" transform="rotate(9 1301.0 423.5)"/>
<rect x="1308.5" y="397.0" width="9" height="44" rx="4" fill="none" stroke="#dededc" stroke-width="1.1" transform="rotate(9 1313.0 419.0)"/>
<path d="M1551 240.2 L1340 351.6 L1228 410.7" fill="none" stroke="#e3e3e1" stroke-width="2.6" stroke-dasharray="1.4 1.4"/>
<defs>
<path id="lp-dpmid" d="M920.5 328 Q927.5 322 934.5 316 T946.5 306.5 T962.5 301 T983.5 297 T1003.5 291.5 T1018 287"/>
<path id="lp-dpn" d="M1168.5 194.5 L1168.5 124 Q1168.5 106 1186 99.5"/>
<path id="lp-aub" d="M1206 493 Q1209 485 1212 476.7 T1221.4 456.7 T1229.6 441 T1242.4 428.4 T1252.4 420 T1264 414"/>
<linearGradient id="mk" x1="0" y1="0" x2="0" y2="1"><stop offset="0" stop-color="#4a9ad6"/><stop offset="0.55" stop-color="#2e83cb"/><stop offset="1" stop-color="#1f75c4"/></linearGradient>
<filter id="blur" x="-50%" y="-50%" width="200%" height="200%"><feGaussianBlur stdDeviation="3"/></filter>
<g id="lbl" font-family="'DejaVu Sans','Liberation Sans',sans-serif" >
<text transform="translate(1371.0 144.5) rotate(-49.8)" font-size="16.3" text-anchor="middle" dy="0.36em" textLength="126.0" lengthAdjust="spacing">Roseville Road</text>
<text transform="translate(1244.0 599.4) rotate(28.6)" font-size="16.3" text-anchor="middle" dy="0.36em" textLength="138.0" lengthAdjust="spacing">Marconi Avenue</text>
<text transform="translate(1044.0 402.2) rotate(54.6)" font-size="16.3" text-anchor="middle" dy="0.36em" textLength="137.0" lengthAdjust="spacing">Marconi Avenue</text>
<text transform="translate(875.0 376.0) rotate(-43.2)" font-size="13.7" text-anchor="middle" dy="0.36em" textLength="97.0" lengthAdjust="spacing">Del Paso Blvd.</text>
<text transform="translate(1185.0 481.5) rotate(-90.0)" font-size="16.3" text-anchor="middle" dy="0.36em" textLength="107.0" lengthAdjust="spacing">Connie Drive</text>
<text transform="translate(980.6 610.6) rotate(-49.0)" font-size="13.7" text-anchor="middle" dy="0.36em" textLength="92.0" lengthAdjust="spacing">Auburn Blvd.</text>
<text transform="translate(1455.0 445.7) rotate(-26.5)" font-size="13.7" text-anchor="middle" dy="0.36em" textLength="106.0" lengthAdjust="spacing">Edison Avenue</text>
<text transform="translate(1340.0 555.0) rotate(-90.0)" font-size="13.7" text-anchor="middle" dy="0.36em" textLength="98.5" lengthAdjust="spacing">Howe Avenue</text>
<text transform="translate(1497.5 520.0) rotate(90.0)" font-size="13.7" text-anchor="middle" dy="0.36em" textLength="75.0" lengthAdjust="spacing">Bell Street</text>
<text transform="translate(1525.0 409.5) rotate(-26.5)" font-size="13.7" text-anchor="start" dy="0.36em">Edison Avenue</text>
<text transform="translate(892.0 297.0) rotate(-16.5)" font-size="17.6" text-anchor="end" dy="0.36em">Arcade Blvd.</text>
<text transform="translate(855.5 759.0) rotate(-47.0)" font-size="13.7" text-anchor="end" dy="0.36em">Blvd.</text>
<text transform="translate(1340.0 762.0) rotate(90.0)" font-size="13.7" text-anchor="start" dy="0.36em">enue</text>
<text transform="translate(1315.5 71.5) rotate(-55.0)" font-size="14.8" text-anchor="start" dy="0.36em">As</text>
<text font-size="13.7" dy="0.36em"><textPath href="#lp-dpmid" textLength="101" lengthAdjust="spacing">Del Paso Blvd.</textPath></text>
<text font-size="13.7" dy="0.36em"><textPath href="#lp-dpn" textLength="101" lengthAdjust="spacing">Del Paso Blvd.</textPath></text>
<text font-size="13.7" dy="0.36em"><textPath href="#lp-aub" textLength="96" lengthAdjust="spacing">Auburn Blvd.</textPath></text>
</g>
</defs>
<use href="#lbl" fill="none" stroke="#ffffff" stroke-width="3" stroke-linejoin="round" stroke-opacity="0.8"/>
<use href="#lbl" fill="#5f6d84" stroke="#5f6d84" stroke-width="0.6"/>
<text x="803.8" y="259" font-family="'DejaVu Sans',sans-serif" font-size="16.3" fill="#4b5664" stroke="#4b5664" stroke-width="0.4">O</text>
<text x="805.8" y="69" font-family="'Liberation Sans',sans-serif" font-weight="bold" font-size="12" fill="#566579">D</text>
<text x="807.5" y="84" font-family="'Liberation Sans',sans-serif" font-weight="bold" font-size="12" fill="#566579" transform="rotate(12 806 84)">/</text>
<text x="944" y="775" font-family="'Liberation Sans',sans-serif" font-weight="bold" font-size="15.1" fill="#4b5664" stroke="#ffffff" stroke-width="2" paint-order="stroke" textLength="62" lengthAdjust="spacing">BEN ALI</text>
<circle cx="1189.2" cy="422.8" r="315.3" fill="#ff0033" fill-opacity="0.2" stroke="#ff0000" stroke-width="4.5"/>
<path d="M1190 421 L1202 401 Q1208 388 1217 386.5 Q1226 387 1223.5 396 Q1218 407 1196 421 Z" fill="#000" fill-opacity="0.3" filter="url(#blur)"/>
<path d="M1190 420.5 C1186 404.5 1172.7 395 1172.7 381.5 A17.3 17.3 0 0 1 1207.3 381.5 C1207.3 395 1194 404.5 1190 420.5 Z" fill="url(#mk)" stroke="#2a6faa" stroke-width="1.4"/>
<circle cx="1190" cy="381.5" r="6.2" fill="#ffffff"/>
</g>
<!--MAPEND-->
</svg>
</div></div>
<div id="edge"></div>
</body>
</html>
